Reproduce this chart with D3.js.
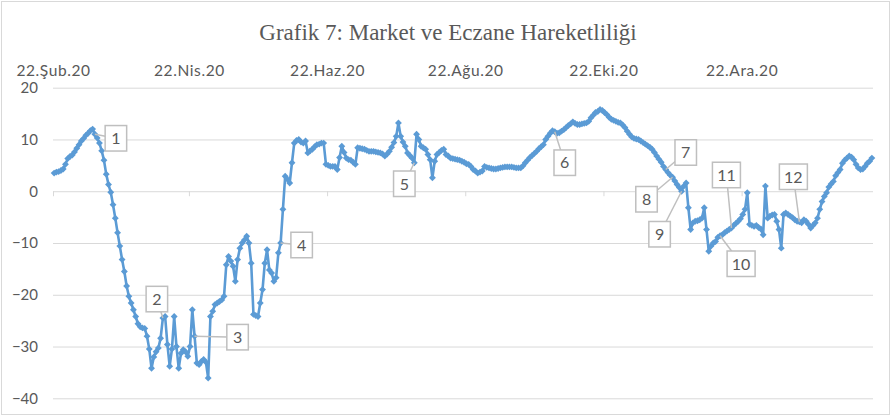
<!DOCTYPE html>
<html>
<head>
<meta charset="utf-8">
<script src="https://cdn.jsdelivr.net/npm/d3@7"></script>
<style>
  body { margin: 0; background: #fff; }
  svg { display: block; }
</style>
</head>
<body>
<svg width="892" height="417"></svg>
<script>
// daily values, first day 22.02.2020
var startDay = Date.UTC(2020, 1, 22);
var values = [
  3.5, 3.7, 3.8, 4.0, 4.3, 5.2, 6.3, 6.7, 7.0, 7.6,
  8.3, 9.0, 9.7, 10.2, 10.8, 11.2, 11.7, 12.0, 11.0, 10.3,
  9.3, 7.8, 6.0, 3.3, 1.3, -0.2, -2.6, -5.2, -8.0, -10.6,
  -13.2, -15.5, -18.3, -20.3, -21.6, -22.9, -24.2, -25.6, -26.2, -26.4,
  -26.5, -28.0, -30.5, -34.2, -32.0, -31.0, -30.3, -28.4, -24.5, -24.2,
  -29.6, -33.8, -30.5, -24.2, -30.0, -34.2, -31.3, -30.6, -31.0, -31.9,
  -30.0, -22.9, -28.0, -33.2, -33.5, -32.9, -32.5, -33.0, -36.1, -24.2,
  -23.2, -21.9, -21.6, -21.3, -21.0, -20.3, -14.2, -12.6, -13.5, -14.5,
  -17.4, -13.2, -11.0, -10.0, -9.4, -8.7, -10.0, -13.9, -23.8, -24.0,
  -24.2, -21.6, -19.0, -13.9, -11.3, -15.2, -15.8, -17.4, -16.7, -11.9,
  -10.0, -3.5, 2.9, 2.3, 1.6, 5.5, 9.3, 9.8, 10.0, 9.5,
  9.3, 9.7, 7.4, 7.8, 8.1, 8.6, 9.0, 9.1, 9.3, 9.3,
  5.2, 5.0, 4.8, 4.8, 4.8, 4.2, 6.5, 8.7, 7.5, 6.4,
  6.1, 6.0, 5.6, 5.2, 8.4, 8.3, 8.2, 8.1, 7.9, 7.7,
  7.7, 7.7, 7.6, 7.5, 7.4, 7.2, 6.8, 7.2, 7.7, 8.5,
  9.4, 10.6, 13.2, 10.6, 9.5, 8.7, 7.4, 6.9, 6.4, 5.5,
  11.0, 10.0, 8.7, 8.4, 8.1, 7.1, 6.1, 2.6, 5.8, 7.1,
  7.5, 7.9, 8.1, 7.1, 6.8, 6.4, 6.3, 6.2, 6.1, 6.0,
  5.8, 5.6, 5.3, 5.2, 4.8, 4.2, 3.9, 3.5, 3.7, 3.9,
  4.8, 4.6, 4.5, 4.4, 4.3, 4.3, 4.4, 4.5, 4.6, 4.7,
  4.7, 4.7, 4.7, 4.6, 4.5, 4.5, 4.5, 4.9, 5.5, 6.0,
  6.5, 6.9, 7.3, 7.7, 8.2, 8.6, 9.0, 10.0, 10.6, 11.2,
  11.7, 11.5, 11.2, 11.3, 11.6, 11.9, 12.3, 12.7, 13.0, 13.4,
  13.1, 12.9, 12.9, 13.0, 13.1, 13.2, 13.5, 14.2, 14.7, 15.2,
  15.4, 15.8, 15.6, 15.2, 14.8, 14.3, 13.9, 13.7, 13.5, 13.3,
  13.2, 12.8, 12.3, 11.6, 11.0, 10.5, 10.2, 10.1, 10.0, 9.7,
  9.4, 9.1, 8.8, 8.5, 8.1, 7.5, 6.8, 6.2, 5.6, 4.8,
  4.2, 3.6, 3.1, 2.7, 2.0, 1.3, 0.7, 0.0, 1.0, 1.6,
  -3.2, -7.4, -6.1, -5.8, -5.7, -5.5, -5.2, -3.2, -7.4, -11.6,
  -10.6, -10.0, -9.7, -8.9, -8.6, -8.4, -8.0, -7.7, -7.4, -7.1,
  -6.6, -6.2, -5.8, -5.3, -4.5, -3.5, -0.3, -6.4, -6.6, -6.8,
  -6.6, -7.0, -7.3, -8.4, 1.0, -5.2, -4.8, -4.6, -4.5, -5.8,
  -7.4, -11.0, -4.5, -4.2, -4.5, -4.8, -5.1, -5.5, -5.8, -5.9,
  -6.1, -5.5, -5.8, -6.4, -7.1, -6.6, -6.1, -5.2, -3.5, -2.0,
  -1.0, -0.3, 0.8, 1.4, 1.9, 3.0, 3.6, 4.2, 5.4, 6.0,
  6.4, 6.8, 6.6, 6.1, 5.2, 4.5, 4.2, 4.3, 4.8, 5.4,
  5.8, 6.4
];

var title = "Grafik 7: Market ve Eczane Hareketliliği";
var tickLabels = ["22.Şub.20", "22.Nis.20", "22.Haz.20", "22.Ağu.20", "22.Eki.20", "22.Ara.20"];
var tickDates = [Date.UTC(2020,1,22), Date.UTC(2020,3,22), Date.UTC(2020,5,22),
                 Date.UTC(2020,7,22), Date.UTC(2020,9,22), Date.UTC(2020,11,22)];
var yTicks = [-40, -30, -20, -10, 0, 10, 20];

// numbered callouts: which day they point at
var calloutText = ["1","2","3","4","5","6","7","8","9","10","11","12"];
var calloutIndex = [18, 48, 62, 100, 159, 221, 270, 273, 277, 294, 299, 329];
// where the callout box sits, relative to its point (layout only)
var calloutShift = [[21,4],[-6,-19],[43,1],[21,2],[-10,21],[10,31],
                    [20,-17],[-26,22],[-22,43],[21,28],[-5,-53],[-6,-45]];

var svg = d3.select("svg");
var grey = "#595959", gridCol = "#d9d9d9", blue = "#5b9bd5";

// chart border
svg.append("rect")
  .attr("x", 1.5).attr("y", 1.5).attr("width", 888).attr("height", 413)
  .attr("fill", "#fff").attr("stroke", gridCol);

svg.append("text")
  .attr("x", 448).attr("y", 40)
  .attr("text-anchor", "middle")
  .style("font-family", "'Liberation Serif', serif")
  .style("font-size", "23px")
  .attr("fill", grey)
  .text(title);

var endDay = Date.UTC(2021, 1, 18);
var x = d3.scaleUtc().domain([startDay, endDay]).range([53, 873]);
var y = d3.scaleLinear().domain([-40, 20]).range([398.3, 87.7]);

var dayMs = 864e5;
var pts = values.map(function(v, i) {
  return { date: startDay + i * dayMs + dayMs / 2, value: v };
});

// y axis + gridlines
var yAxis = svg.append("g")
  .attr("transform", "translate(53,0)")
  .call(d3.axisLeft(y).tickValues(yTicks).tickSize(-820).tickPadding(15));
yAxis.select(".domain").remove();
yAxis.selectAll("line").attr("stroke", gridCol);
yAxis.selectAll("text")
  .attr("fill", grey)
  .style("font-family", "Lato, sans-serif")
  .style("font-size", "15px");

// small ticks on the zero line
var xTicks = svg.append("g")
  .attr("transform", "translate(0," + y(0) + ")")
  .call(d3.axisBottom(x).tickValues(tickDates).tickSize(5).tickFormat(""));
xTicks.select(".domain").remove();
xTicks.selectAll("line").attr("stroke", gridCol);

// date labels on top
var xLab = svg.append("g")
  .attr("transform", "translate(0,61)")
  .call(d3.axisTop(x).tickValues(tickDates).tickSize(0).tickPadding(0)
    .tickFormat(function(d, i) { return tickLabels[i]; }));
xLab.select(".domain").remove();
xLab.selectAll("text")
  .attr("fill", grey)
  .attr("dy", "0.95em")
  .attr("letter-spacing", "0.6px")
  .style("font-family", "Lato, sans-serif")
  .style("font-size", "15.5px");

// series
var line = d3.line()
  .x(function(d) { return x(d.date); })
  .y(function(d) { return y(d.value); });

svg.append("path")
  .datum(pts)
  .attr("d", line)
  .attr("fill", "none")
  .attr("stroke", blue)
  .attr("stroke-width", 2.6)
  .attr("stroke-linejoin", "round");

svg.append("g").selectAll("path")
  .data(pts)
  .enter()
  .append("path")
  .attr("transform", function(d) { return "translate(" + x(d.date) + "," + y(d.value) + ")"; })
  .attr("d", d3.symbol().type(d3.symbolDiamond2).size(30))
  .attr("fill", blue);

// callouts
var co = svg.append("g").selectAll("g")
  .data(calloutIndex)
  .enter()
  .append("g");

co.each(function(idx, i) {
  var g = d3.select(this);
  var px = x(pts[idx].date), py = y(pts[idx].value);
  var cx = px + calloutShift[i][0], cy = py + calloutShift[i][1];
  var w = calloutText[i].length > 1 ? 28 : 21.5, h = 25.5;
  g.append("line")
    .attr("x1", px).attr("y1", py).attr("x2", cx).attr("y2", cy)
    .attr("stroke", "#bfbfbf").attr("stroke-width", 1.5);
  g.append("rect")
    .attr("x", cx - w / 2).attr("y", cy - h / 2)
    .attr("width", w).attr("height", h)
    .attr("fill", "#fff").attr("stroke", "#bfbfbf").attr("stroke-width", 1.5);
  g.append("text")
    .attr("x", cx).attr("y", cy)
    .attr("dy", "0.36em")
    .attr("text-anchor", "middle")
    .attr("fill", grey)
    .style("font-family", "Lato, sans-serif")
    .style("font-size", "16px")
    .text(calloutText[i]);
});
</script>
</body>
</html>
